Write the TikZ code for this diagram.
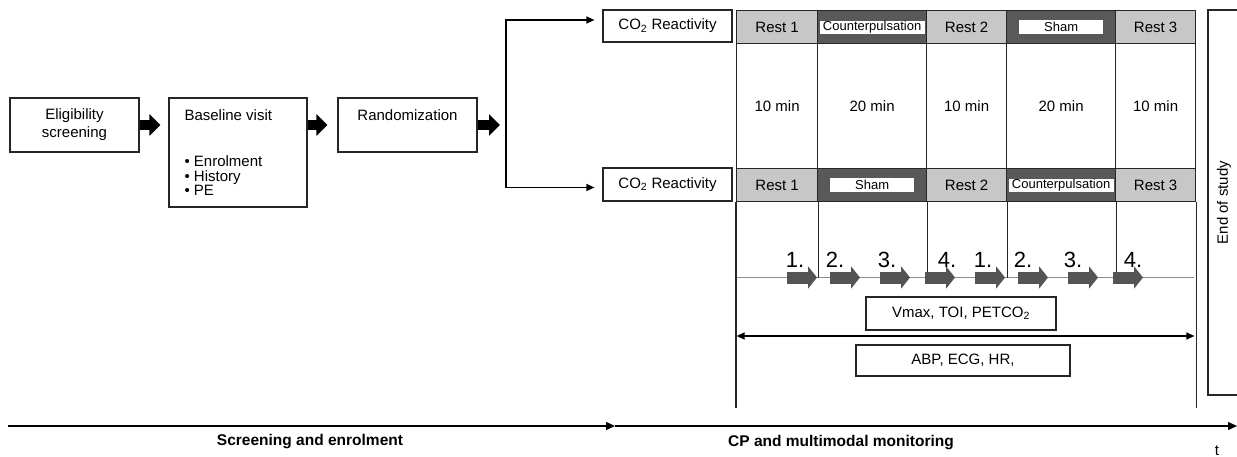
\documentclass[tikz,border=0pt]{standalone}
\usepackage{fontspec}
\setmainfont{Liberation Sans}
\usepackage{tikz}
\usetikzlibrary{arrows.meta,calc}
\newcommand{\cotwo}[0]{CO\textsubscript{2}}
\newcommand{\fsize}[1]{\fontsize{#1}{#1}\selectfont}

\begin{document}
\begin{tikzpicture}[x=1pt,y=-1pt,font=\fontsize{15}{18}\selectfont]
\tikzstyle{box}=[draw=black!85,line width=1.2pt,inner sep=0pt]
\tikzstyle{rest}=[box,fill=black!22,minimum height=33,anchor=north west]
\tikzstyle{treat}=[box,fill=black!65,minimum height=33,anchor=north west]
\tikzstyle{tag}=[fill=white,inner sep=0pt,font=\fsize{13}]
\tikzstyle{fatarrow}=[line width=10pt,-{Triangle[length=11pt,width=21pt]}]
\tikzstyle{linkarrow}=[line width=1.2pt,-{Triangle[length=8pt,width=7pt]}]
\tikzstyle{axisarrow}=[line width=1.3pt,-{Triangle[length=9pt,width=8pt]}]
\tikzstyle{stagearrow}=[black!67,line width=12pt,-{Triangle[length=9pt,width=22pt]}]
\useasboundingbox (0,0) rectangle (1237,457);

% screening part
\node[box,minimum width=129,minimum height=54,align=center] (elig) at (74.5,125) {Eligibility\\screening};
\node[box,minimum width=138,minimum height=109] (base) at (238,152.5) {};
\node[anchor=west] (basetitle) at (181,115) {Baseline visit};
\node[anchor=west,align=left,font=\fontsize{15}{14.5}\selectfont] (baselist) at (181,176) {• Enrolment\\• History\\• PE};
\node[box,minimum width=139,minimum height=54] (rand) at (407.5,125) {};
\node (randtitle) at (407.5,115) {Randomization};
\coordinate (fork) at (506,125);
\draw[fatarrow,shorten >=8pt] (elig.east) -- (elig.east -| base.west);
\draw[fatarrow,shorten >=10pt] (base.east |- elig.east) -- (rand.west);
\draw[fatarrow,shorten >=6pt] (rand.east) -- (fork);

% two arms
\node[box,minimum width=129,minimum height=32] (co2a) at (667.5,26) {\cotwo{} Reactivity};
\node[box,minimum width=129,minimum height=33] (co2b) at (667.5,184.5) {\cotwo{} Reactivity};
\draw[linkarrow,shorten >=8pt] (fork) |- ([yshift=6pt]co2a.west);
\draw[linkarrow,shorten >=8pt] (fork) |- ([yshift=-3pt]co2b.west);

% durations
\foreach \x/\w/\dur [count=\i] in {736/81/10 min,817/109/20 min,926/80/10 min,1006/109/20 min,1115/80/10 min}
  \node[box,anchor=north west,minimum width=\w,minimum height=125] (m\i) at (\x,43) {\dur};

% upper sequence
\node[rest,minimum width=81] (a1) at (736,10) {Rest 1};
\node[treat,minimum width=109] (a2) at (817,10) {};
\node[tag,minimum width=105,minimum height=13] (a2t) at (a2) {Counterpulsation};
\node[rest,minimum width=80] (a3) at (926,10) {Rest 2};
\node[treat,minimum width=109] (a4) at (1006,10) {};
\node[tag,minimum width=84,minimum height=14] (a4t) at (a4) {Sham};
\node[rest,minimum width=80] (a5) at (1115,10) {Rest 3};

% lower sequence
\node[rest,minimum width=81] (b1) at (736,168) {Rest 1};
\node[treat,minimum width=109] (b2) at (817,168) {};
\node[tag,minimum width=84,minimum height=14] (b2t) at (b2) {Sham};
\node[rest,minimum width=80] (b3) at (926,168) {Rest 2};
\node[treat,minimum width=109] (b4) at (1006,168) {};
\node[tag,minimum width=105,minimum height=13] (b4t) at (b4) {Counterpulsation};
\node[rest,minimum width=80] (b5) at (1115,168) {Rest 3};

% measurements
\coordinate (tl) at (736.6,277.5);
\coordinate (tr) at (1194.4,277.5);
\draw[black!45,line width=1.2pt] (tl) -- (tr);
\foreach \c in {b1,b2,b3,b4}
  \draw[box] (\c.south east) -- (\c.south east |- tl);
\draw[box] (b1.south west) -- ++(0,206);
\draw[box] (b5.south east) -- ++(0,206);
\foreach \x/\lbl/\lx [count=\i] in {787/1./795,830/2./835,880/3./887,925/4./947,975/1./983,1018/2./1023,1068/3./1073,1113/4./1133}{
  \draw[stagearrow] (\x,277.5) -- ++(30,0);
  \node[font=\fsize{22},anchor=base,inner sep=0pt] (num\i) at (\lx,267) {\lbl};
}
\node[box,minimum width=190,minimum height=33] (vmax) at (961,313.5) {Vmax, TOI, PET\cotwo};
\node[box,minimum width=214,minimum height=31] (abp) at (963,360.5) {ABP, ECG, HR,};
\coordinate (sl) at (736.6,336);
\coordinate (sr) at (1194.4,336);
\draw[line width=1.2pt,{Triangle[length=8pt,width=7pt]}-{Triangle[length=8pt,width=7pt]}] (sl) -- (sr);
\node[box,rotate=90,minimum width=385,minimum height=32] (end) at (1224,202.5) {End of study};

% time axis
\coordinate (t0) at (8,426);
\coordinate (t1) at (615,426);
\coordinate (t2) at (1237,426);
\draw[axisarrow] (t0) -- (t1);
\draw[axisarrow] (t1) -- (t2);
\node[font=\fsize{15.5}\bfseries] (phase1) at (310,442) {Screening and enrolment};
\node[font=\fsize{15.5}\bfseries] (phase2) at (841,443) {CP and multimodal monitoring};
\node (tlabel) at (1217,451) {t};
\end{tikzpicture}
\end{document}
